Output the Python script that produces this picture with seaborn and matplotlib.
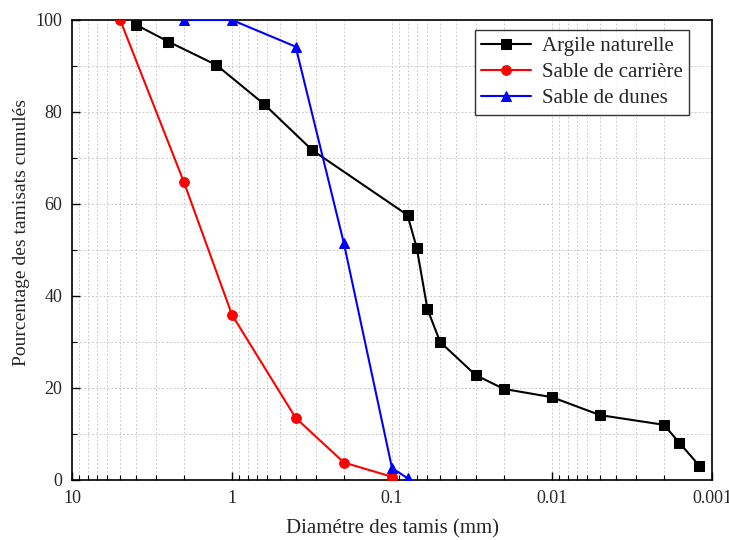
import numpy as np
import pandas as pd
import seaborn as sns
import matplotlib
matplotlib.use("Agg")
import matplotlib.pyplot as plt
from matplotlib.ticker import FixedLocator, FuncFormatter, LogLocator, MultipleLocator, NullFormatter

# Data
argile_d = [4, 2.5, 1.25, 0.63, 0.315, 0.08, 0.07, 0.06, 0.05, 0.03, 0.02, 0.01, 0.005, 0.002, 0.0016, 0.0012]
argile_p = [99.0, 95.3, 90.2, 81.7, 71.7, 57.6, 50.4, 37.1, 30.0, 22.8, 19.8, 18.0, 14.1, 12.0, 8.1, 3.1]
carriere_d = [5, 2, 1, 0.4, 0.2, 0.1]
carriere_p = [100, 64.8, 35.9, 13.5, 3.8, 0.7]
dunes_d = [2, 1, 0.4, 0.2, 0.1, 0.08]
dunes_p = [100, 100, 94.2, 51.5, 2.6, 0.4]

names = ["Argile naturelle", "Sable de carrière", "Sable de dunes"]
colors = ["black", "red", "blue"]
markers = ["s", "o", "^"]
msizes = [7, 7, 7.5]

sns.set_style("ticks")
plt.rcParams['font.family'] = ['Liberation Serif', 'DejaVu Serif']

fig = plt.figure(figsize=(7.29, 5.4), dpi=100)
ax = fig.add_axes([72/729, 1-480/540, (712-72)/729, 460/540])

series = [(argile_d, argile_p), (carriere_d, carriere_p), (dunes_d, dunes_p)]
for (d, p), name, c, m, ms in zip(series, names, colors, markers, msizes):
    df = pd.DataFrame({"d": d, "p": p})
    sns.lineplot(data=df, x="d", y="p", sort=False, ax=ax, color=c, marker=m,
                 markersize=ms, markeredgecolor=c, linewidth=1.5,
                 label=name, zorder=3)

ax.set_xscale("log")
ax.set_xlim(10, 0.001)
ax.set_ylim(0, 100)
ax.xaxis.set_major_locator(FixedLocator([10, 1, 0.1, 0.01, 0.001]))
ax.xaxis.set_major_formatter(FuncFormatter(lambda v, pos: "%g" % v))
ax.xaxis.set_minor_locator(LogLocator(base=10, subs=np.arange(2, 10), numticks=20))
ax.xaxis.set_minor_formatter(NullFormatter())
ax.yaxis.set_major_locator(MultipleLocator(20))
ax.yaxis.set_minor_locator(MultipleLocator(10))

ax.tick_params(which="both", direction="in", top=False, right=False, labelsize=13, color="black", pad=7)
ax.tick_params(which="major", length=6, width=1)
ax.tick_params(which="minor", length=3.5, width=0.8)
ax.grid(True, which="both", linestyle=(0, (2, 2)), color="#cccccc", linewidth=0.7)
ax.set_axisbelow(True)
for s in ax.spines.values():
    s.set_visible(True)
    s.set_color("black")
    s.set_linewidth(1.2)

ax.set_xlabel("Diamétre des tamis (mm)", fontsize=15, labelpad=9)
ax.set_ylabel("Pourcentage des tamisats cumulés", fontsize=14)
ax.yaxis.set_label_coords(-0.066, 0.537)

leg = ax.legend(loc="upper right", bbox_to_anchor=(1 - 23/640, 1 - 10/460), fontsize=15, frameon=True,
                fancybox=False, edgecolor="black", handlelength=2.4, borderpad=0.3,
                labelspacing=0.32, handletextpad=0.5, borderaxespad=0)
leg.get_frame().set_linewidth(1.0)

fig.savefig("out.png", dpi=100)
